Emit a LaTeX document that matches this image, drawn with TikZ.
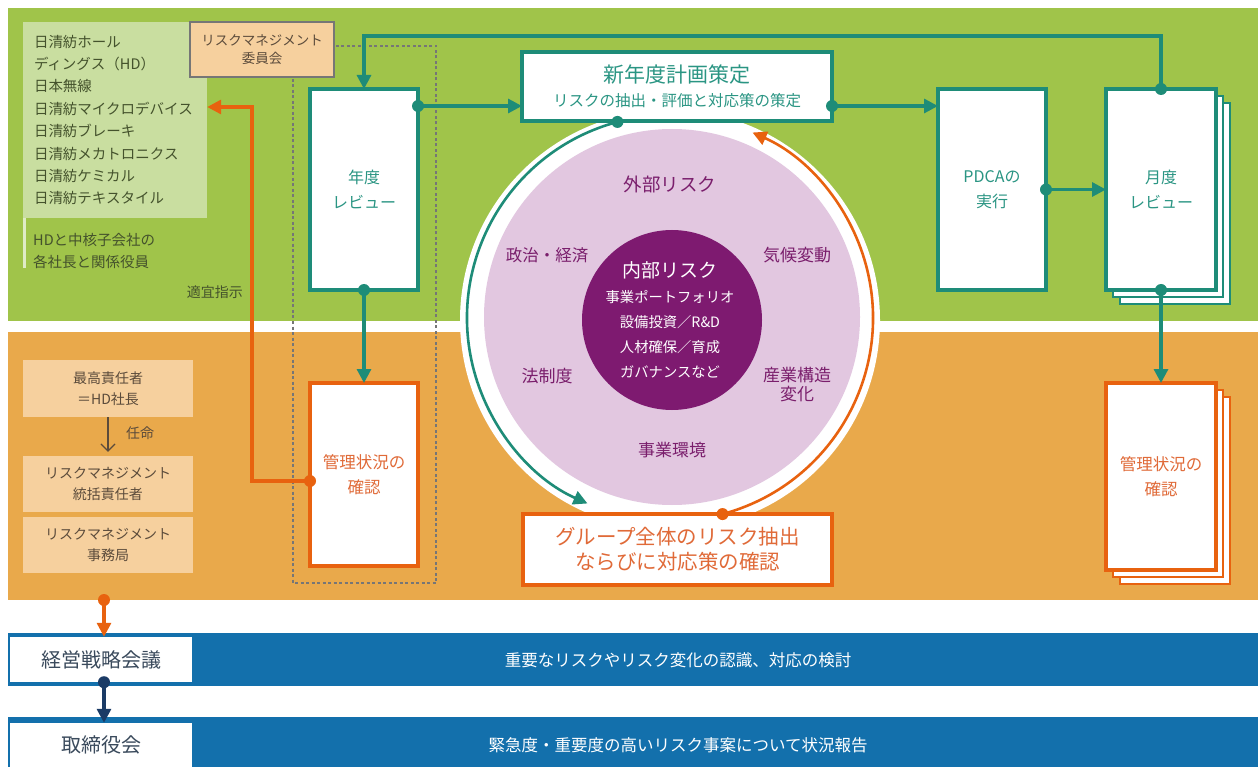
\documentclass[tikz,border=0pt]{standalone}
\usepackage{fontspec}
\setmainfont{Noto Sans CJK JP}
\usetikzlibrary{arrows.meta,calc}
\newcommand{\myfs}[2]{\fontsize{#1}{#2}\selectfont}
\definecolor{bggreen}{HTML}{A0C44A}
\definecolor{lgreen}{HTML}{C9DEA0}
\definecolor{bgorange}{HTML}{E9A94B}
\definecolor{peach}{HTML}{F6D09E}
\definecolor{tealc}{HTML}{1E8C78}
\definecolor{tealtxt}{HTML}{2A9583}
\definecolor{orangec}{HTML}{E8620F}
\definecolor{orangetxt}{HTML}{E06A38}
\definecolor{pinkc}{HTML}{E2C7E0}
\definecolor{purplec}{HTML}{7E1A70}
\definecolor{purpletxt}{HTML}{7A1E6C}
\definecolor{bluec}{HTML}{1370AC}
\definecolor{navyc}{HTML}{1B3B66}
\definecolor{olivetxt}{HTML}{44522C}
\definecolor{browntxt}{HTML}{5B4B3B}
\definecolor{greyc}{HTML}{767676}
\definecolor{bluetxt}{HTML}{3A4A5C}
\begin{document}
\begin{tikzpicture}[x=1pt,y=-1pt,
  box/.style={draw, fill=white, line width=3.2pt, inner sep=0pt, outer sep=0pt, align=center},
  tbox/.style={box, draw=tealc, text=tealtxt, font=\myfs{16}{24.5}},
  obox/.style={box, draw=orangec, text=orangetxt, font=\myfs{16.5}{25}},
  tl/.style={draw=tealc, line width=3.2pt},
  tla/.style={tl, -{Triangle[length=14pt,width=14pt]}},
  ola/.style={draw=orangec, line width=3.2pt, -{Triangle[length=14pt,width=14pt]}},
  pbox/.style={fill=peach, minimum width=170pt, inner sep=0pt, align=center, text=browntxt, font=\myfs{14}{21.5}},
  ptxt/.style={text=purpletxt, inner sep=0pt, align=center, font=\myfs{17}{19}},
  wtxt/.style={text=white, inner sep=0pt, align=center},
]
\useasboundingbox (0,0) rectangle (1258,767);
\clip (0,0) rectangle (1258,767);
% backgrounds
\fill[bggreen] (8,8) rectangle (1258,321);
\fill[bgorange] (8,332) rectangle (1258,600);
\fill[white] (670,320) circle[radius=210];
\fill[pinkc] (672,317) circle[radius=188];
\fill[purplec] (672,320) circle[radius=90];
% left list
\node[fill=lgreen, minimum width=184pt, minimum height=196pt, inner sep=0pt, text width=162pt, align=left, font=\myfs{14.5}{22.4}, text=olivetxt] (lst) at (115,120) {日清紡ホール\\ディングス（HD）\\日本無線\\日清紡マイクロデバイス\\日清紡ブレーキ\\日清紡メカトロニクス\\日清紡ケミカル\\日清紡テキスタイル};
\fill[lgreen!60!white] (23,218) rectangle (26,268);
\node[anchor=west, align=left, inner sep=0pt, font=\myfs{14.5}{22}, text=olivetxt] (hd) at (33,251) {HDと中核子会社の\\各社長と関係役員};
\node[anchor=east, inner sep=0pt, font=\myfs{14}{16}, text=olivetxt] (tekigi) at (243,292) {適宜指示};
% dashed frame and committee
\draw[greyc, line width=2.5pt, dash pattern=on 3pt off 2.5pt] (293,46) rectangle (436,583);
\node[fill=peach, draw=greyc, line width=2.8pt, minimum width=144pt, minimum height=55pt, inner sep=0pt, align=center, font=\myfs{13.5}{18}, text=browntxt] (com) at (262,49.5) {リスクマネジメント\\委員会};
% boxes
\node[tbox, minimum width=108pt, minimum height=201pt] (ann) at (364,189.5) {年度\\レビュー};
\node[box, draw=tealc, text=tealtxt, minimum width=310pt, minimum height=69pt, font=\myfs{15.5}{24}] (plan) at (677,86.5) {{\myfs{21}{24}新年度計画策定}\\{\myfs{15.5}{24}リスクの抽出・評価と対応策の策定}};
\node[tbox, minimum width=108pt, minimum height=201pt] (pdca) at (992,189.5) {PDCAの\\実行};
\foreach \d in {14,7} \draw[tealc, line width=2.8pt, fill=white] (1106+\d,89+\d) rectangle (1216+\d,290+\d);
\node[tbox, minimum width=110pt, minimum height=201pt] (mon) at (1161,189.5) {月度\\レビュー};
\node[obox, minimum width=108pt, minimum height=183pt] (chkL) at (364,474.5) {管理状況の\\確認};
\foreach \d in {14,7} \draw[orangec, line width=2.8pt, fill=white] (1106+\d,383+\d) rectangle (1216+\d,570+\d);
\node[obox, minimum width=110pt, minimum height=187pt] (chkR) at (1161,476.5) {管理状況の\\確認};
\node[obox, minimum width=309pt, minimum height=71pt, font=\myfs{20.5}{25}] (grp) at (677.5,549.5) {グループ全体のリスク抽出\\ならびに対応策の確認};
% circle texts
\node[ptxt, font=\myfs{18.5}{20}] (ext) at (670,184) {外部リスク};
\node[ptxt, font=\myfs{16.5}{19}] (pol) at (547,255) {政治・経済};
\node[ptxt] (cli) at (797,255) {気候変動};
\node[ptxt] (law) at (547,376) {法制度};
\node[ptxt] (ind) at (797,384.5) {産業構造\\変化};
\node[ptxt] (biz) at (672,450) {事業環境};
\node[wtxt, font=\myfs{19}{22}] (int) at (670,270) {内部リスク};
\node[wtxt, font=\myfs{14.3}{25}] (intl) at (670,334.5) {事業ポートフォリオ\\設備投資／R\&D\\人材確保／育成\\ガバナンスなど};
% teal connectors
\draw[tla] (mon.north) -- ++(0,-53) -| (ann.north);
\fill[tealc] (mon.north) circle[radius=6];
\coordinate (a1) at ([yshift=-17pt]ann.north east);
\draw[tla] (a1) -- (a1 -| plan.west);
\fill[tealc] (a1) circle[radius=6];
\coordinate (a2) at ([yshift=-19.5pt]plan.east);
\draw[tla] (a2) -- (a2 -| pdca.west);
\fill[tealc] (a2) circle[radius=6];
\draw[tla] (pdca.east) -- (mon.west);
\fill[tealc] (pdca.east) circle[radius=6];
\draw[tla] (mon.south) -- (chkR.north);
\fill[tealc] (mon.south) circle[radius=6];
\draw[tla] (ann.south) -- (chkL.north);
\fill[tealc] (ann.south) circle[radius=6];
% orange instruction line
\coordinate (o1) at ([yshift=-6.5pt]chkL.west);
\coordinate (o2) at (252,107);
\draw[ola] (o1) -| (o2) -- (o2 -| lst.east);
\fill[orangec] (o1) circle[radius=6];
% arcs
\coordinate (cc) at (670,318);
\coordinate (ta) at ($(cc)+(255:203)$);
\draw[tla, line width=2.6pt] (ta) arc[start angle=255, end angle=114, radius=203];
\fill[tealc] (ta) circle[radius=6];
\coordinate (oa) at ($(cc)+(75:203)$);
\draw[ola, line width=2.6pt] (oa) arc[start angle=75, end angle=-66, radius=203];
\fill[orangec] (oa) circle[radius=6];
% left peach boxes
\node[pbox, minimum height=57pt] (p1) at (108,388.5) {最高責任者\\＝HD社長};
\node[pbox, minimum height=56pt] (p2) at (108,484) {リスクマネジメント\\統括責任者};
\node[pbox, minimum height=56pt] (p3) at (108,545) {リスクマネジメント\\事務局};
\draw[browntxt, line width=1.2pt, -{Straight Barb[length=7pt,width=14pt]}] (p1.south) -- ([yshift=4pt]p2.north);
\node[text=browntxt, font=\myfs{14}{16}, inner sep=0pt] (nin) at (140,433) {任命};
% bottom bars
\fill[bluec] (8,633) rectangle (1258,686);
\fill[bluec] (8,717) rectangle (1258,775);
\node[fill=white, minimum width=182pt, minimum height=45pt, inner sep=0pt, text=bluetxt, font=\myfs{20}{22}] (mtg) at (101,659.5) {経営戦略会議};
\node[fill=white, minimum width=182pt, minimum height=44pt, inner sep=0pt, text=bluetxt, font=\myfs{20}{22}] (brd) at (101,745) {取締役会};
\node[wtxt, font=\myfs{16.5}{20}] (t1) at (678,660) {重要なリスクやリスク変化の認識、対応の検討};
\node[wtxt, font=\myfs{16.5}{20}] (t2) at (678,745) {緊急度・重要度の高いリスク事案について状況報告};
\coordinate (od) at (104,600);
\draw[ola] (od) -- (od |- mtg.north);
\fill[orangec] (od) circle[radius=6];
\coordinate (nd) at (od |- mtg.south);
\draw[draw=navyc, line width=3.2pt, -{Triangle[length=14pt,width=14pt]}] (nd) -- (nd |- brd.north);
\fill[navyc] (nd) circle[radius=6];
\end{tikzpicture}
\end{document}
